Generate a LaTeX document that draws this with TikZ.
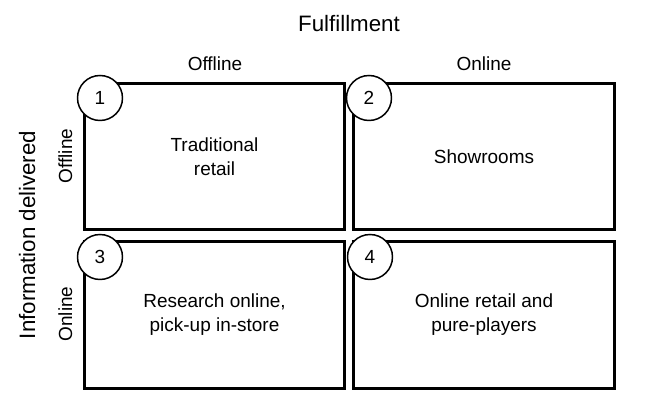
\documentclass[tikz,border=0pt]{standalone}
\usepackage{fontspec}
\setmainfont{Liberation Sans}
\newcommand{\txtfont}{\fontsize{10.8}{13.6}\selectfont}
\newcommand{\bigfont}{\fontsize{12.7}{15.5}\selectfont}
\tikzstyle{quadrant}=[rectangle, draw, line width=1.7pt, minimum width=5.22cm, minimum height=2.94cm, align=center, font=\txtfont]
\tikzstyle{badge}=[circle, draw, fill=white, line width=0.85pt, minimum size=0.9cm, inner sep=0pt, font=\txtfont]
\tikzstyle{axis}=[inner sep=0pt, anchor=base, font=\txtfont]
\newcommand{\quadrant}{\node[quadrant]}
\newcommand{\badge}{\node[badge]}

\begin{document}
\begin{tikzpicture}[x=0.02cm, y=-0.02cm]
\useasboundingbox (0,0) rectangle (646,411);
% axis titles
\node[axis, font=\bigfont] (ful) at (349,32) {Fulfillment};
\node[axis, font=\bigfont, rotate=90] (inf) at (35,235) {Information delivered};
\node[axis] (coff) at (215,71) {Offline};
\node[axis] (con) at (484,71) {Online};
\node[axis, rotate=90] (roff) at (72,156) {Offline};
\node[axis, rotate=90] (ron) at (72,314) {Online};
% quadrants
\quadrant (a) at (214.5,156.5) {Traditional\\retail};
\quadrant (b) at (484,156.5) {Showrooms};
\quadrant (c) at (214.5,315) {Research online,\\pick-up in-store};
\quadrant (d) at (484,315) {Online retail and\\pure-players};
\badge (n1) at (100,98) {1};
\badge (n2) at (369,98) {2};
\badge (n3) at (100,257) {3};
\badge (n4) at (370,257) {4};
\end{tikzpicture}
\end{document}
